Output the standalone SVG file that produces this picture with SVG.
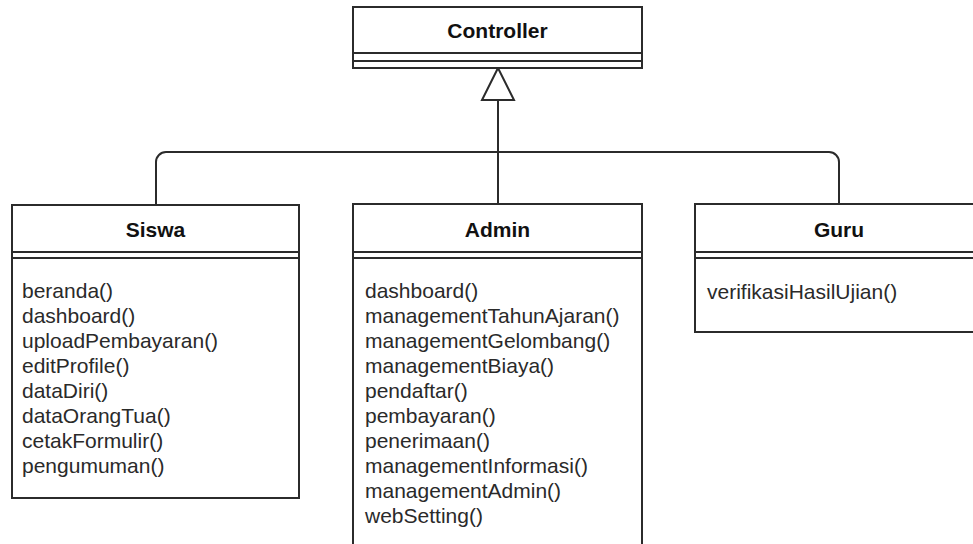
<svg xmlns="http://www.w3.org/2000/svg" width="973" height="544" viewBox="0 0 973 544">
<style>
.box{fill:#fff;stroke:#2b2b2b;stroke-width:2}
.sep{stroke:#2b2b2b;stroke-width:2;fill:none}
.name{font-family:"Liberation Sans",Arial,sans-serif;font-weight:bold;font-size:21px;fill:#111;text-anchor:middle}
.m{font-family:"Liberation Sans",Arial,sans-serif;font-size:21px;fill:#2a2a2a}
.edge{fill:none;stroke:#2b2b2b;stroke-width:2}
</style>
<rect width="973" height="544" fill="#fff"/>
<g id="connectors">
<path class="edge" d="M156,205 V162 A10,10 0 0 1 166,152 H829 A10,10 0 0 1 839,162 V204"/>
<path class="edge" d="M498,100 V204"/>
<polygon points="498,68 482,100 514,100" fill="#fff" stroke="#2b2b2b" stroke-width="2"/>
</g>
<g id="controller">
<rect class="box" x="353" y="7" width="289" height="61"/>
<line class="sep" x1="353" y1="53" x2="642" y2="53"/>
<line class="sep" x1="353" y1="61" x2="642" y2="61"/>
<text class="name" x="497.5" y="38">Controller</text>
</g>
<g id="siswa">
<rect class="box" x="12" y="205" width="287" height="293"/>
<line class="sep" x1="12" y1="252" x2="299" y2="252"/>
<line class="sep" x1="12" y1="258" x2="299" y2="258"/>
<text class="name" x="155.5" y="237">Siswa</text>
<text class="m" x="22" y="298">beranda()</text>
<text class="m" x="22" y="323">dashboard()</text>
<text class="m" x="22" y="348">uploadPembayaran()</text>
<text class="m" x="22" y="373">editProfile()</text>
<text class="m" x="22" y="398">dataDiri()</text>
<text class="m" x="22" y="423">dataOrangTua()</text>
<text class="m" x="22" y="448">cetakFormulir()</text>
<text class="m" x="22" y="473">pengumuman()</text>
</g>
<g id="admin">
<rect class="box" x="353" y="204" width="289" height="346"/>
<line class="sep" x1="353" y1="252" x2="642" y2="252"/>
<line class="sep" x1="353" y1="258" x2="642" y2="258"/>
<text class="name" x="497.5" y="237">Admin</text>
<text class="m" x="365" y="298">dashboard()</text>
<text class="m" x="365" y="323">managementTahunAjaran()</text>
<text class="m" x="365" y="348">managementGelombang()</text>
<text class="m" x="365" y="373">managementBiaya()</text>
<text class="m" x="365" y="398">pendaftar()</text>
<text class="m" x="365" y="423">pembayaran()</text>
<text class="m" x="365" y="448">penerimaan()</text>
<text class="m" x="365" y="473">managementInformasi()</text>
<text class="m" x="365" y="498">managementAdmin()</text>
<text class="m" x="365" y="523">webSetting()</text>
</g>
<g id="guru">
<rect class="box" x="695" y="204" width="288" height="128"/>
<line class="sep" x1="695" y1="252" x2="983" y2="252"/>
<line class="sep" x1="695" y1="258" x2="983" y2="258"/>
<text class="name" x="839" y="237">Guru</text>
<text class="m" x="707" y="299">verifikasiHasilUjian()</text>
</g>
</svg>
